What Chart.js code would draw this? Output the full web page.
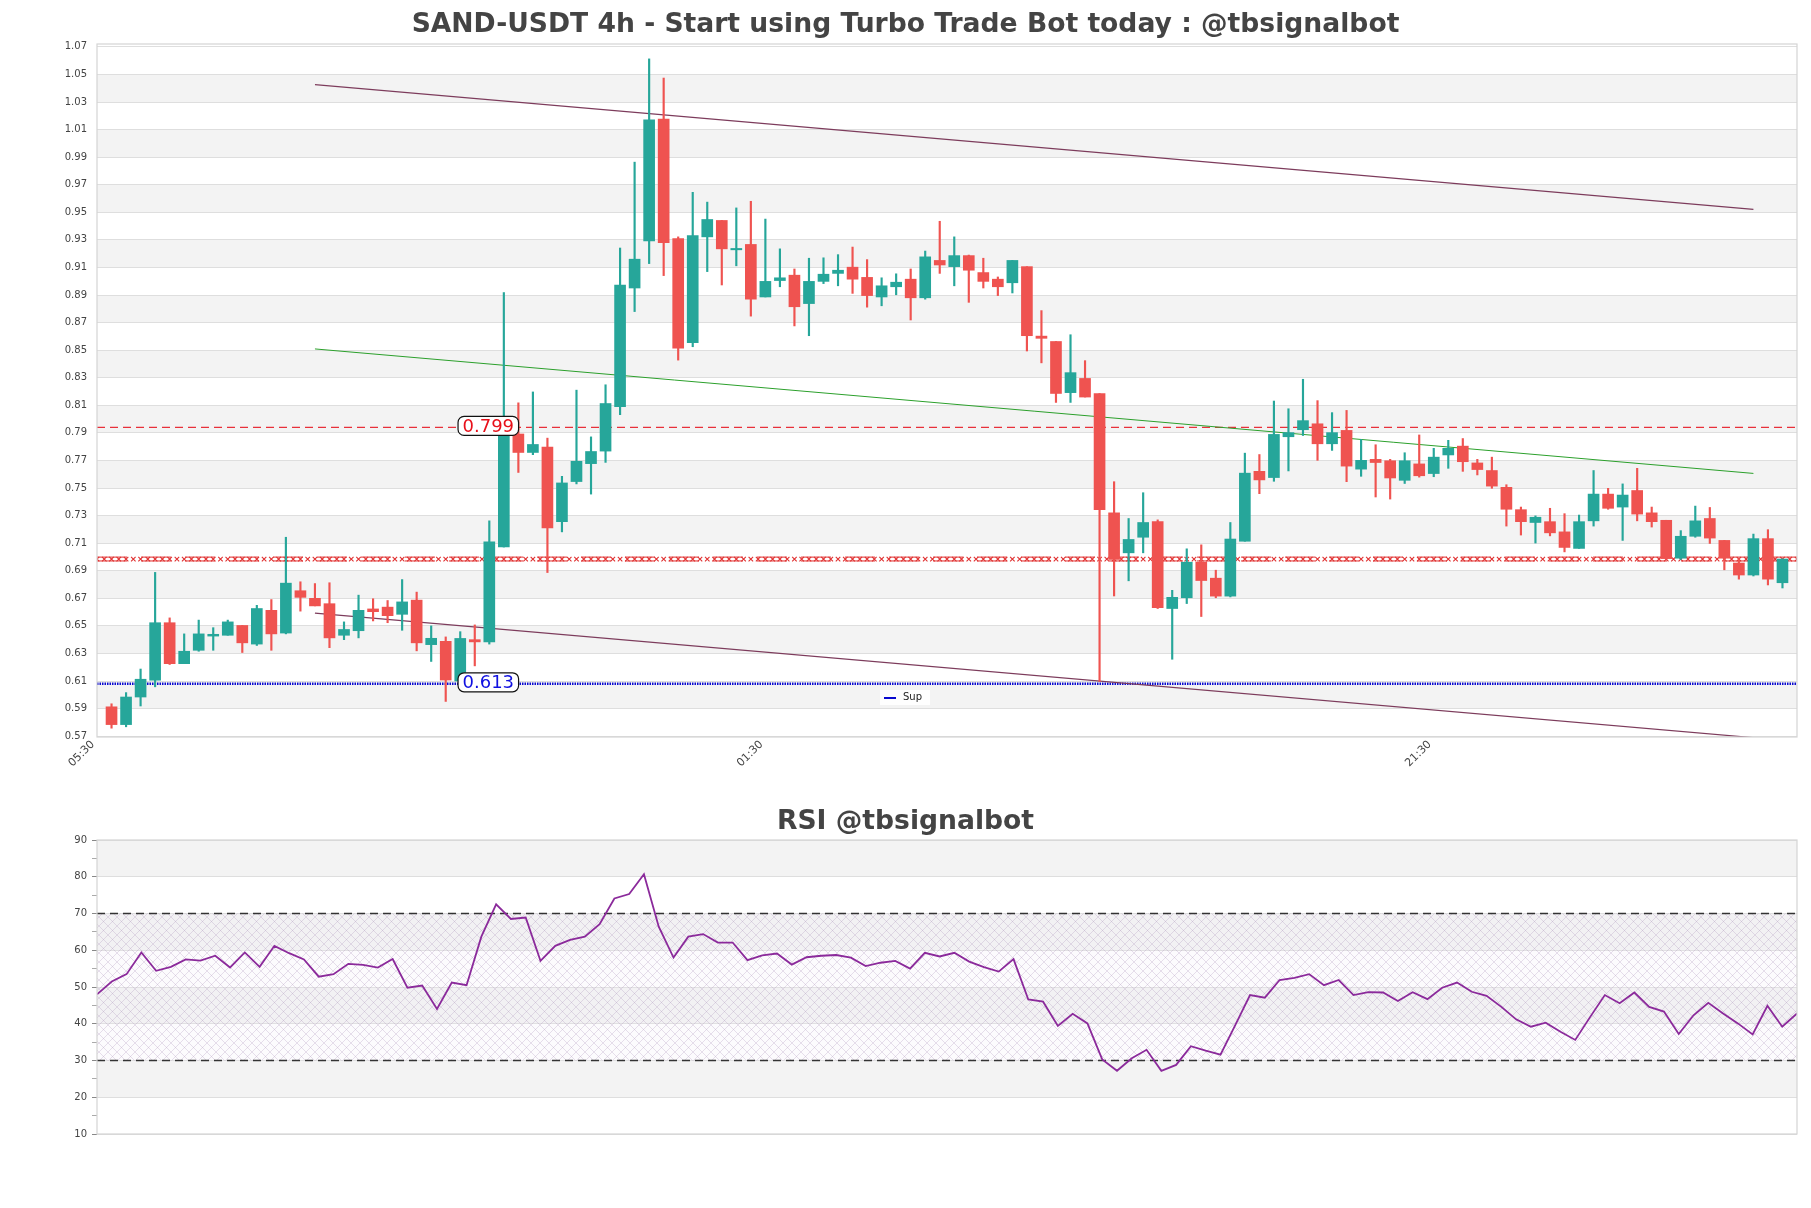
<!DOCTYPE html>
<html>
<head>
<meta charset="utf-8">
<title>SAND-USDT 4h</title>
<script src="https://cdn.jsdelivr.net/npm/chart.js@4.4.0/dist/chart.umd.min.js"></script>
<style>
  html, body { margin:0; padding:0; background:#fff; }
  body { width:1811px; height:1208px; position:relative; overflow:hidden; font-family:"DejaVu Sans", sans-serif; }
  .title { position:absolute; left:0; width:1811px; text-align:center; font-weight:bold; font-size:26.6px; line-height:30px; color:#444; }
  #t1 { top:8px; }
  #t2 { top:805px; }
  #c1 { position:absolute; left:0; top:0; }
  #c2 { position:absolute; left:0; top:800px; }
</style>
</head>
<body>
<canvas id="c1" width="1811" height="800"></canvas>
<canvas id="c2" width="1811" height="408"></canvas>
<div class="title" id="t1">SAND-USDT 4h - Start using Turbo Trade Bot today : @tbsignalbot</div>
<div class="title" id="t2">RSI @tbsignalbot</div>
<script>
// ---- candles ----
const OPEN = [0.5913,0.5784,0.5984,0.6106,0.6523,0.6226,0.6323,0.6426,0.6432,0.6503,
  0.6368,0.6613,0.6448,0.6755,0.6700,0.6661,0.6432,0.6465,0.6623,0.6636,
  0.6584,0.6687,0.6364,0.6388,0.6100,0.6400,0.6384,0.7072,0.7892,0.7758,
  0.7797,0.7256,0.7547,0.7677,0.7768,0.8091,0.8951,0.9293,1.0177,0.9309,
  0.8554,0.9322,0.9441,0.9228,0.9267,0.8886,0.9005,0.9044,0.8838,0.8999,
  0.9057,0.9102,0.9028,0.8886,0.8960,0.9015,0.8880,0.9151,0.9106,0.9186,
  0.9063,0.9015,0.8989,0.9106,0.8602,0.8563,0.8192,0.8295,0.8186,0.7320,
  0.7030,0.7143,0.7256,0.6626,0.6704,0.6962,0.6846,0.6716,0.7114,0.7621,
  0.7576,0.7872,0.7923,0.7966,0.7821,0.7918,0.7637,0.7708,0.7698,0.7556,
  0.7675,0.7605,0.7740,0.7804,0.7682,0.7627,0.7505,0.7343,0.7250,0.7256,
  0.7182,0.7062,0.7262,0.7456,0.7362,0.7482,0.7320,0.7266,0.6991,0.7150,
  0.7279,0.7120,0.6956,0.6869,0.7133,0.6813];
const HIGH = [0.5935,0.6016,0.6187,0.6888,0.6558,0.6442,0.6542,0.6487,0.6542,0.6503,
  0.6649,0.6691,0.7143,0.6820,0.6807,0.6813,0.6529,0.6723,0.6697,0.6684,
  0.6836,0.6745,0.6500,0.6420,0.6458,0.6507,0.7262,0.8918,0.8118,0.8197,
  0.7862,0.7585,0.8210,0.7871,0.8249,0.9241,0.9864,1.0613,1.0474,0.9322,
  0.9645,0.9574,0.9441,0.9532,0.9580,0.9451,0.9235,0.9089,0.9167,0.9170,
  0.9193,0.9248,0.9157,0.9025,0.9054,0.9089,0.9219,0.9435,0.9322,0.9190,
  0.9167,0.9031,0.9151,0.9106,0.8787,0.8563,0.8612,0.8424,0.8186,0.7546,
  0.7279,0.7466,0.7269,0.6758,0.7059,0.7088,0.6904,0.7250,0.7753,0.7743,
  0.8131,0.8075,0.8289,0.8134,0.8047,0.8063,0.7853,0.7814,0.7708,0.7756,
  0.7885,0.7788,0.7846,0.7859,0.7708,0.7724,0.7524,0.7362,0.7298,0.7353,
  0.7314,0.7304,0.7627,0.7498,0.7530,0.7643,0.7362,0.7266,0.7191,0.7369,
  0.7359,0.7120,0.6988,0.7166,0.7198,0.6985];
const LOW = [0.5758,0.5768,0.5919,0.6058,0.6220,0.6226,0.6316,0.6323,0.6432,0.6307,
  0.6358,0.6323,0.6442,0.6607,0.6645,0.6342,0.6400,0.6413,0.6536,0.6523,
  0.6468,0.6319,0.6242,0.5952,0.6070,0.6210,0.6368,0.7072,0.7613,0.7742,
  0.6887,0.7182,0.7530,0.7456,0.7686,0.8032,0.8780,0.9128,0.9041,0.8428,
  0.8525,0.9070,0.8973,0.9112,0.8747,0.8886,0.8960,0.8676,0.8605,0.8983,
  0.8967,0.8912,0.8812,0.8822,0.8902,0.8719,0.8870,0.9057,0.8967,0.8847,
  0.8951,0.8896,0.8915,0.8494,0.8408,0.8121,0.8121,0.8160,0.6097,0.6717,
  0.6827,0.7030,0.6626,0.6258,0.6662,0.6568,0.6704,0.6710,0.7114,0.7459,
  0.7549,0.7624,0.7881,0.7701,0.7773,0.7546,0.7585,0.7435,0.7420,0.7533,
  0.7579,0.7582,0.7643,0.7621,0.7595,0.7498,0.7224,0.7159,0.7101,0.7153,
  0.7037,0.7062,0.7224,0.7346,0.7120,0.7262,0.7217,0.6982,0.6982,0.7143,
  0.7098,0.6907,0.6839,0.6862,0.6797,0.6775];
const CLOSE = [0.5784,0.5984,0.6113,0.6523,0.6226,0.6316,0.6442,0.6439,0.6529,0.6377,
  0.6626,0.6442,0.6810,0.6707,0.6645,0.6413,0.6474,0.6613,0.6603,0.6574,
  0.6674,0.6377,0.6410,0.6107,0.6409,0.6384,0.7110,0.7892,0.7758,0.7816,
  0.7210,0.7537,0.7694,0.7765,0.8113,0.8973,0.9160,1.0171,0.9280,0.8515,
  0.9332,0.9448,0.9235,0.9238,0.8870,0.8999,0.9025,0.8815,0.8999,0.9051,
  0.9080,0.9015,0.8896,0.8967,0.8993,0.8880,0.9177,0.9118,0.9186,0.9080,
  0.8999,0.8960,0.9151,0.8605,0.8586,0.8186,0.8337,0.8160,0.7343,0.6982,
  0.7127,0.7250,0.6633,0.6707,0.6962,0.6829,0.6716,0.7130,0.7608,0.7559,
  0.7889,0.7902,0.7989,0.7821,0.7902,0.7659,0.7701,0.7685,0.7573,0.7698,
  0.7589,0.7724,0.7788,0.7691,0.7634,0.7514,0.7346,0.7256,0.7288,0.7175,
  0.7069,0.7256,0.7456,0.7353,0.7449,0.7311,0.7256,0.6988,0.7150,0.7262,
  0.7137,0.6991,0.6869,0.7133,0.6839,0.6985];

// ---- RSI ----
const RSI = [48.0,51.5,53.5,59.4,54.4,55.5,57.5,57.2,58.5,55.3,
  59.4,55.5,61.2,59.2,57.5,52.8,53.5,56.3,56.0,55.3,
  57.6,49.8,50.4,44.0,51.2,50.5,63.7,72.5,68.5,68.9,
  57.1,61.2,62.8,63.7,67.1,74.1,75.3,80.7,66.4,58.0,
  63.7,64.4,62.1,62.1,57.3,58.6,59.1,56.1,58.1,58.5,
  58.7,58.0,55.7,56.6,57.1,55.0,59.3,58.3,59.3,56.9,
  55.4,54.2,57.6,46.6,46.0,39.4,42.7,40.1,30.3,27.2,
  30.6,32.9,27.2,28.8,33.9,32.7,31.6,39.6,47.8,47.1,
  51.9,52.5,53.5,50.5,51.9,47.8,48.6,48.5,46.2,48.6,
  46.7,49.8,51.2,48.7,47.6,44.6,41.2,39.2,40.3,37.8,
  35.6,41.8,47.8,45.6,48.5,44.6,43.3,37.2,42.3,45.7,
  42.8,40.1,37.1,44.9,39.2,42.8];

// ---- axes ----
const X_TICKS = [-1, 45, 91];
const X_LABELS = ['05:30', '01:30', '21:30'];
const Y_TICKS = [0.57,0.59,0.61,0.63,0.65,0.67,0.69,0.71,0.73,0.75,0.77,0.79,0.81,
  0.83,0.85,0.87,0.89,0.91,0.93,0.95,0.97,0.99,1.01,1.03,1.05,1.07];
const RSI_TICKS = [10,20,30,40,50,60,70,80,90];

// ---- levels and trend lines ----
const RES_LEVEL = 0.794, RES_TEXT = '0.799';
const SUP_LEVEL = 0.608, SUP_TEXT = '0.613';
const MID_LEVEL = 0.6985;
const TREND_X = [14, 113];
const TREND_UP = [1.0426, 0.9522];
const TREND_MID = [0.8509, 0.7606];
const TREND_LOW = [0.6593, 0.5689];
const RSI_LEVELS = [30, 70];

const UP = '#26a69a', DOWN = '#ef5350';
Chart.defaults.font.family = '"DejaVu Sans", sans-serif';
Chart.defaults.color = '#444';

function hline(y, x0, x1, color, width, dash, extra){
  return Object.assign({
    type:'line', data:[{x:x0, y:y}, {x:x1, y:y}], borderColor:color, borderWidth:width,
    borderDash:dash || [], pointRadius:0, fill:false, order:3
  }, extra || {});
}
function segment(ys, color, width){
  return {type:'line', data:TREND_X.map((x,i)=>({x:x, y:ys[i]})), borderColor:color,
    borderWidth:width, pointRadius:0, fill:false, order:2};
}

// alternating grey bands between ticks
function bandPlugin(id, ticks, greyParity){
  return {
    id,
    beforeDraw(chart){
      const {ctx, chartArea:a, scales:{y}} = chart;
      const t = ticks.slice().sort((p,q)=>q-p);
      ctx.save();
      ctx.fillStyle = '#f3f3f3';
      for (let j=0; j<t.length-1; j++){
        if (j % 2 !== greyParity) continue;
        const y0 = y.getPixelForValue(t[j]), y1 = y.getPixelForValue(t[j+1]);
        ctx.fillRect(a.left, y0, a.right-a.left, y1-y0);
      }
      ctx.restore();
    }
  };
}
const frame = {
  id:'frame',
  afterDraw(chart){
    const {ctx, chartArea:a} = chart;
    ctx.save(); ctx.strokeStyle = '#d4d4d4'; ctx.lineWidth = 1.2;
    ctx.strokeRect(a.left, a.top, a.right-a.left, a.bottom-a.top);
    ctx.restore();
  }
};

// price tags + small legend
const tags = {
  id:'tags',
  afterDatasetsDraw(chart){
    const {ctx, chartArea:a, scales:{x, y}} = chart;
    const tag = (txt, color, level)=>{
      ctx.save();
      ctx.font = '18px "DejaVu Sans"';
      const w = ctx.measureText(txt).width + 9, h = 19;
      const cx = x.getPixelForValue(26) - 1, cy = y.getPixelForValue(level) - 1.5;
      ctx.beginPath(); ctx.roundRect(cx-w/2, cy-h/2, w, h, 6);
      ctx.fillStyle = '#fff'; ctx.fill();
      ctx.strokeStyle = '#111'; ctx.lineWidth = 1.2; ctx.stroke();
      ctx.fillStyle = color; ctx.textAlign = 'center'; ctx.textBaseline = 'middle';
      ctx.fillText(txt, cx, cy+1);
      ctx.restore();
    };
    tag(RES_TEXT, '#e8101a', RES_LEVEL);
    tag(SUP_TEXT, '#1010e0', SUP_LEVEL);

    // legend "Sup"
    ctx.save();
    const lx = a.left + 783, ly = a.bottom - 40;
    ctx.fillStyle = 'rgba(255,255,255,0.85)';
    ctx.fillRect(lx, ly-7, 50, 15);
    ctx.strokeStyle = '#0a0ad0'; ctx.lineWidth = 2;
    ctx.beginPath(); ctx.moveTo(lx+4, ly+1); ctx.lineTo(lx+16, ly+1); ctx.stroke();
    ctx.fillStyle = '#222'; ctx.font = '10px "DejaVu Sans"'; ctx.textBaseline = 'middle';
    ctx.fillText('Sup', lx+23, ly);
    ctx.restore();
  }
};

// ---------- main candle chart ----------
const candleColor = CLOSE.map((c,i)=> c >= OPEN[i] ? UP : DOWN);
const midMarks = [];
for (let k=-2; k<=232; k++) midMarks.push({x:k/2, y:MID_LEVEL});

new Chart(document.getElementById('c1'), {
  type:'bar',
  data:{
    datasets:[
      {type:'bar', data:CLOSE.map((c,i)=>({x:i, y:[OPEN[i], c]})), backgroundColor:candleColor,
        barThickness:11, grouped:false, borderWidth:0, order:0},
      {type:'bar', data:HIGH.map((h,i)=>({x:i, y:[LOW[i], h]})), backgroundColor:candleColor,
        barThickness:1.5, grouped:false, borderWidth:0, order:1},
      segment(TREND_UP, '#7d3c5c', 1.2),
      segment(TREND_MID, '#2ca02c', 1),
      segment(TREND_LOW, '#7d3c5c', 1.2),
      hline(RES_LEVEL, -1, 116, '#e8303a', 1.3, [8,5]),
      hline(SUP_LEVEL, -1, 116, '#0a0ad0', 2.5, [1.5,1]),
      hline(MID_LEVEL + 0.0014, -1, 116, '#e03030', 1, [30,14]),
      hline(MID_LEVEL - 0.0014, -1, 116, '#e03030', 1, [30,14]),
      {type:'line', data:midMarks, showLine:false, pointStyle:'crossRot', pointRadius:3.2,
        pointBorderColor:'#e03030', pointBorderWidth:1.1, pointBackgroundColor:'#e03030', order:3}
    ]
  },
  options:{
    responsive:false, animation:false, devicePixelRatio:1,
    layout:{padding:{top:44, right:14, left:0, bottom:0}},
    plugins:{legend:{display:false}, tooltip:{enabled:false}},
    scales:{
      x:{type:'linear', min:-1, max:116, offset:false,
        grid:{display:false}, border:{display:false},
        afterBuildTicks:s=>{ s.ticks = X_TICKS.map(v=>({value:v})); },
        afterFit:s=>{ s.height = 63; },
        ticks:{autoSkip:false, minRotation:45, maxRotation:45, padding:-7, labelOffset:-4,
          font:{size:11}, color:'#444',
          callback:v=>{ const k = X_TICKS.indexOf(v); return k < 0 ? '' : X_LABELS[k]; }}},
      y:{type:'linear', min:0.5694, max:1.0721,
        grid:{color:'#dedede', drawTicks:false}, border:{display:false},
        afterBuildTicks:s=>{ s.ticks = Y_TICKS.map(v=>({value:v})); },
        afterFit:s=>{ s.width = 97; },
        ticks:{padding:10, font:{size:10}, color:'#444', callback:v=>Number(v).toFixed(2)}}
    }
  },
  plugins:[bandPlugin('bands1', Y_TICKS, 1), tags, frame]
});

// ---------- RSI chart ----------
function hatchPattern(ctx){
  const c = document.createElement('canvas'); c.width = 9; c.height = 9;
  const g = c.getContext('2d');
  g.strokeStyle = 'rgba(160,130,175,0.30)'; g.lineWidth = 0.8;
  g.beginPath(); g.moveTo(0,0); g.lineTo(9,9); g.moveTo(0,9); g.lineTo(9,0); g.stroke();
  return ctx.createPattern(c, 'repeat');
}
const hatch = {
  id:'hatch',
  beforeDatasetsDraw(chart){
    const {ctx, chartArea:a, scales:{y}} = chart;
    const y0 = y.getPixelForValue(RSI_LEVELS[1]), y1 = y.getPixelForValue(RSI_LEVELS[0]);
    ctx.save();
    ctx.fillStyle = 'rgba(238,232,243,0.18)';
    ctx.fillRect(a.left, y0, a.right-a.left, y1-y0);
    ctx.fillStyle = hatchPattern(ctx);
    ctx.fillRect(a.left, y0, a.right-a.left, y1-y0);
    ctx.restore();
  }
};

new Chart(document.getElementById('c2'), {
  type:'line',
  data:{
    datasets:[
      {data:RSI.map((v,i)=>({x:i, y:v})), borderColor:'#8b2a9b', borderWidth:1.8, pointRadius:0, fill:false, tension:0, order:0},
      hline(RSI_LEVELS[0], 0, RSI.length-1, '#333', 1.3, [8,5]),
      hline(RSI_LEVELS[1], 0, RSI.length-1, '#333', 1.3, [8,5])
    ]
  },
  options:{
    responsive:false, animation:false, devicePixelRatio:1,
    layout:{padding:{top:40, right:14, left:0, bottom:74}},
    plugins:{legend:{display:false}, tooltip:{enabled:false}},
    scales:{
      x:{type:'linear', min:0, max:RSI.length-1, display:false},
      y:{type:'linear', min:10, max:90,
        grid:{color:c=> (c.tick && c.tick.value % 10 === 0) ? '#dedede' : 'rgba(0,0,0,0)',
          tickColor:c=> (c.tick && c.tick.value % 10 === 0) ? '#888' : '#aaa', tickLength:5},
        border:{display:false},
        afterBuildTicks:s=>{ const t=[]; RSI_TICKS.forEach((v,i)=>{ t.push({value:v}); if (i<RSI_TICKS.length-1) t.push({value:v+5}); }); s.ticks = t; },
        afterFit:s=>{ s.width = 97; },
        ticks:{padding:5, font:{size:10}, color:'#444', callback:v=> RSI_TICKS.includes(v) ? String(v) : ''}}
    }
  },
  plugins:[bandPlugin('bands2', RSI_TICKS, 0), hatch, frame]
});
</script>
</body>
</html>
